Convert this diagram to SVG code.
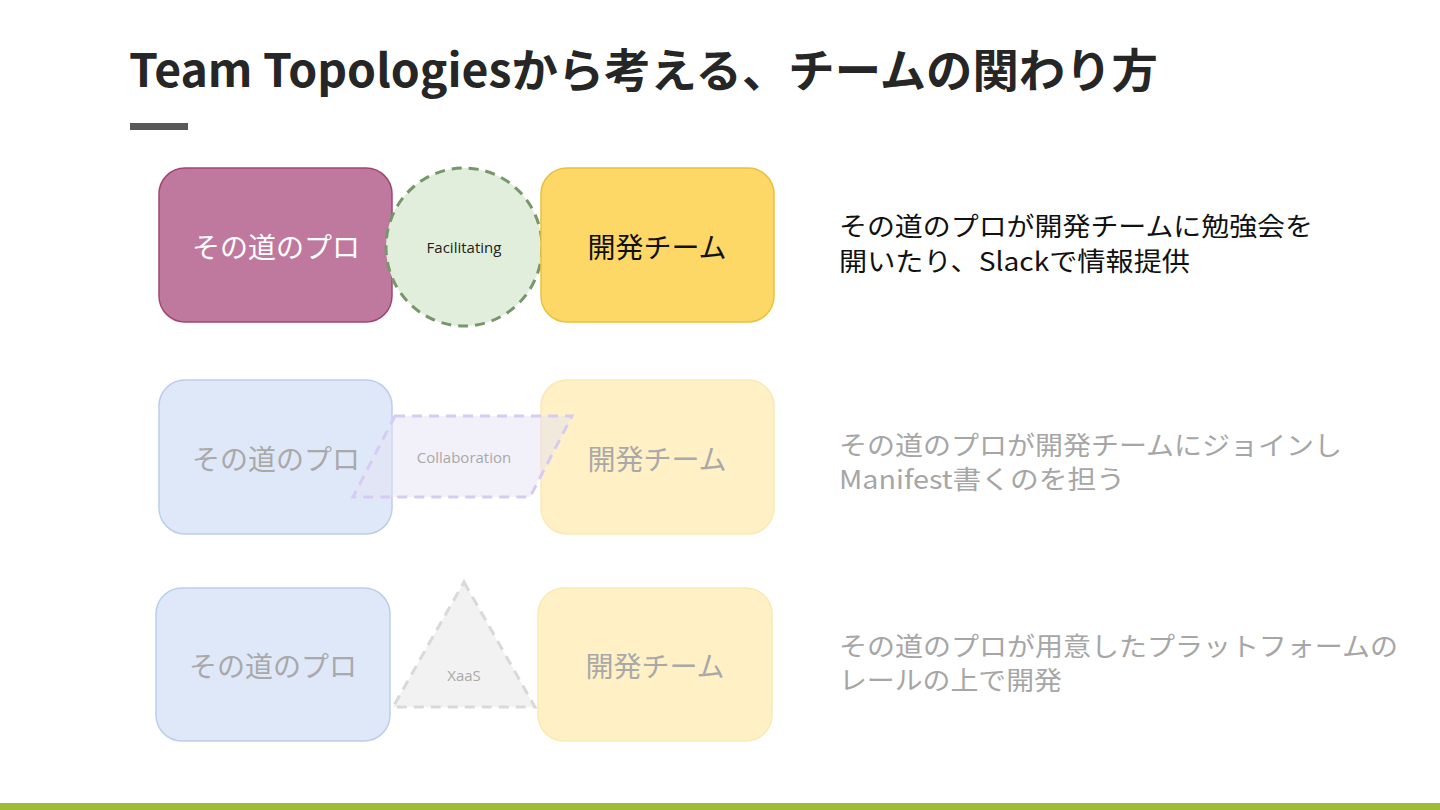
<svg xmlns="http://www.w3.org/2000/svg" width="1440" height="810" viewBox="0 0 1440 810">
<style>
.jp{font-family:"Noto Sans CJK JP","Noto Sans",sans-serif}
.box{stroke-width:1.5}
.lbl{font-family:"Noto Sans CJK JP","Noto Sans",sans-serif;font-size:28px;text-anchor:middle;dominant-baseline:central}
.small{font-family:"Open Sans","Noto Sans",sans-serif;font-size:15px;text-anchor:middle;dominant-baseline:central}
.desc{font-family:"Noto Sans CJK JP","Noto Sans",sans-serif;font-size:26px}
.dash{stroke-width:3;stroke-dasharray:10 7}
</style>
<rect width="1440" height="810" fill="#ffffff"/>
<text x="129" y="87" class="jp" font-size="46" font-weight="bold" fill="#262626" textLength="1029" lengthAdjust="spacingAndGlyphs">Team Topologiesから考える、チームの関わり方</text>
<rect x="130" y="123" width="58" height="7" fill="#595959"/>
<rect x="0" y="803" width="1440" height="7" fill="#a0bc35"/>

<g id="row1-pro">
<rect class="box" x="159" y="168" width="233" height="154" rx="26" fill="#c0799e" stroke="#a3466f"/>
<text class="lbl" x="276" y="246" fill="#ffffff">その道のプロ</text>
</g>
<g id="row1-facilitating">
<ellipse class="dash" cx="464" cy="247" rx="78" ry="79" fill="#e0eedb" stroke="#77966a"/>
<text class="small" x="464" y="247" fill="#222222">Facilitating</text>
</g>
<g id="row1-dev">
<rect class="box" x="541" y="168" width="233" height="154" rx="26" fill="#fdd866" stroke="#e9c13d"/>
<text class="lbl" x="657" y="246" fill="#111111">開発チーム</text>
</g>
<g id="row1-desc">
<text class="desc" fill="#111111"><tspan x="839" y="236" textLength="474" lengthAdjust="spacingAndGlyphs">その道のプロが開発チームに勉強会を</tspan><tspan x="839" y="271" textLength="351" lengthAdjust="spacingAndGlyphs">開いたり、Slackで情報提供</tspan></text>
</g>

<g id="row2-pro">
<rect class="box" x="159" y="380" width="233" height="154" rx="26" fill="#dfe8f8" stroke="#bccdee"/>
<text class="lbl" x="276" y="458" fill="#a9a9a9">その道のプロ</text>
</g>
<g id="row2-dev">
<rect class="box" x="541" y="380" width="233" height="154" rx="26" fill="#fff0c6" stroke="#fbe9b4"/>
<text class="lbl" x="657" y="458" fill="#a9a9a9">開発チーム</text>
</g>
<g id="row2-collaboration">
<polygon class="dash" points="395,416 572,416 530,497 353,497" fill="#e6e2f3" fill-opacity="0.5" stroke="#d6ccf3"/>
<text class="small" x="464" y="457" fill="#a9a9a9">Collaboration</text>
</g>
<g id="row2-desc">
<text class="desc" fill="#a6a6a6"><tspan x="839" y="455" textLength="503" lengthAdjust="spacingAndGlyphs">その道のプロが開発チームにジョインし</tspan><tspan x="839" y="489" textLength="286" lengthAdjust="spacingAndGlyphs">Manifest書くのを担う</tspan></text>
</g>

<g id="row3-pro">
<rect class="box" x="156" y="588" width="234" height="153" rx="26" fill="#dfe8f8" stroke="#bccdee"/>
<text class="lbl" x="273" y="665" fill="#a9a9a9">その道のプロ</text>
</g>
<g id="row3-xaas">
<polygon class="dash" points="464,582 535,707 393,707" fill="#f2f2f2" stroke="#d9d9d9"/>
<text class="small" x="464" y="675" fill="#a9a9a9">XaaS</text>
</g>
<g id="row3-dev">
<rect class="box" x="538" y="588" width="234" height="153" rx="26" fill="#fff0c6" stroke="#fbe9b4"/>
<text class="lbl" x="655" y="665" fill="#a9a9a9">開発チーム</text>
</g>
<g id="row3-desc">
<text class="desc" fill="#a6a6a6"><tspan x="839" y="656" textLength="559" lengthAdjust="spacingAndGlyphs">その道のプロが用意したプラットフォームの</tspan><tspan x="839" y="690" textLength="223" lengthAdjust="spacingAndGlyphs">レールの上で開発</tspan></text>
</g>
<g id="connectors"></g>
</svg>
